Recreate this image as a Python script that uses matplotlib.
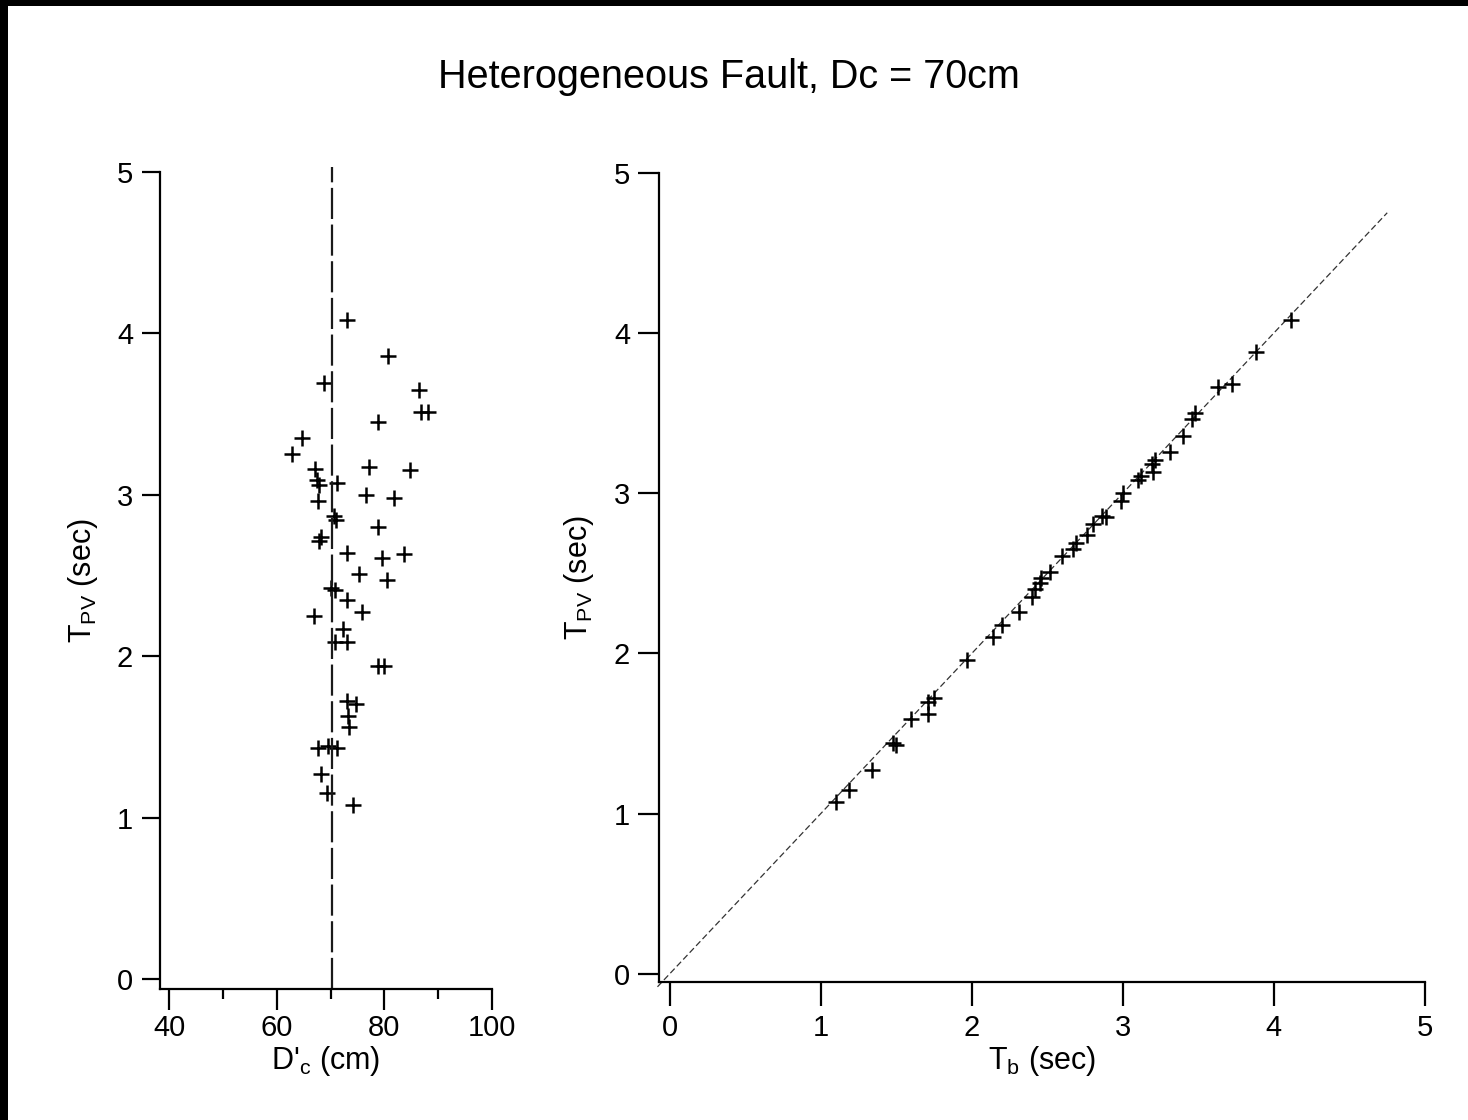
import matplotlib
matplotlib.use('Agg')
import matplotlib.pyplot as plt
from matplotlib.patches import Rectangle

plt.rcParams['font.family'] = ['Liberation Sans', 'DejaVu Sans']
plt.rcParams['mathtext.fontset'] = 'custom'
plt.rcParams['mathtext.rm'] = 'Liberation Sans'
plt.rcParams['mathtext.default'] = 'rm'

# left panel: D'c vs T_pv
left_dc = [73.0, 80.7, 68.8, 86.5, 86.9, 88.2, 78.8, 64.7, 62.8, 67.1,
           67.5, 67.9, 71.3, 77.2, 84.8, 76.6, 81.8, 67.6, 71.0, 70.7,
           78.9, 68.2, 67.9, 73.0, 79.5, 83.6, 75.3, 80.6, 70.1, 70.8,
           73.0, 67.0, 75.9, 72.4, 70.8, 73.0, 78.9, 80.0, 73.0, 74.8,
           73.3, 73.5, 67.6, 69.5, 71.2, 68.2, 69.3, 74.2]
left_tpv = [4.08, 3.86, 3.69, 3.65, 3.51, 3.51, 3.45, 3.35, 3.25, 3.16,
            3.09, 3.06, 3.07, 3.17, 3.15, 3.00, 2.98, 2.96, 2.84, 2.87,
            2.80, 2.74, 2.71, 2.64, 2.61, 2.63, 2.51, 2.47, 2.42, 2.41,
            2.35, 2.25, 2.27, 2.17, 2.09, 2.09, 1.94, 1.94, 1.72, 1.70,
            1.63, 1.56, 1.43, 1.44, 1.43, 1.27, 1.15, 1.08]
dc_line = 70.3

# right panel: T_b vs T_pv
right_tb = [4.11, 3.88, 3.72, 3.63, 3.48, 3.46, 3.40, 3.31, 3.21, 3.19,
            3.20, 3.12, 3.10, 3.00, 2.99, 2.86, 2.89, 2.80, 2.76, 2.69,
            2.67, 2.60, 2.52, 2.46, 2.45, 2.42, 2.40, 2.31, 2.20, 2.14,
            1.97, 1.75, 1.71, 1.71, 1.60, 1.48, 1.50, 1.34, 1.19, 1.10]
right_tpv = [4.08, 3.88, 3.68, 3.66, 3.50, 3.46, 3.36, 3.26, 3.21, 3.18,
             3.13, 3.11, 3.08, 3.00, 2.95, 2.86, 2.85, 2.81, 2.74, 2.69,
             2.65, 2.61, 2.51, 2.47, 2.44, 2.40, 2.35, 2.26, 2.18, 2.10,
             1.96, 1.72, 1.70, 1.62, 1.59, 1.44, 1.43, 1.27, 1.15, 1.07]
diag = [-0.08, 4.75]

W, H = 1468, 1120
fig = plt.figure(figsize=(W / 100, H / 100), dpi=100)
fig.patch.set_facecolor('white')
# black frame at top and left edge
fig.patches.append(Rectangle((0, 1 - 6 / H), 1, 6 / H, transform=fig.transFigure,
                             facecolor='black', edgecolor='none'))
fig.patches.append(Rectangle((0, 0), 8 / W, 1, transform=fig.transFigure,
                             facecolor='black', edgecolor='none'))

ax1 = fig.add_axes([159.6 / W, (H - 989.3) / H, 332.4 / W, 817.6 / H])
ax2 = fig.add_axes([659.3 / W, (H - 982.3) / H, 765.7 / W, 809.6 / H])


def style(ax, xlen, ylen, xpad, ypad):
    for s in ['top', 'right']:
        ax.spines[s].set_visible(False)
    for s in ['left', 'bottom']:
        ax.spines[s].set_linewidth(1.6)
    ax.tick_params(axis='x', which='major', direction='out', length=xlen, width=1.6,
                   pad=xpad, labelsize=21)
    ax.tick_params(axis='y', which='major', direction='out', length=ylen, width=1.6,
                   pad=ypad, labelsize=21)


ax1.plot(left_dc, left_tpv, '+', color='black', ms=12, mew=1.8)
ax1.axvline(dc_line, ymin=0, ymax=(5.03 + 0.064) / 5.064, color='#1a1a1a', lw=1.6,
            dashes=(14, 2.5), clip_on=False)
ax1.set_xlim(38.2, 100.05)
ax1.set_ylim(-0.064, 5)
ax1.set_xticks([40, 60, 80, 100])
ax1.set_xticks([50, 70, 90], minor=True)
ax1.set_yticks([0, 1, 2, 3, 4, 5])
style(ax1, 15, 13, 3, 6)
ax1.tick_params(axis='x', which='minor', direction='out', length=7, width=1.6)
ax1.set_xlabel("D'$_c$ (cm)", fontsize=22, labelpad=1)
ax1.set_ylabel("T$_{PV}$ (sec)", fontsize=22, labelpad=12)

ax2.plot(diag, diag, color='#333333', lw=0.9, dashes=(5, 2.5), clip_on=False)
ax2.plot(right_tb, right_tpv, '+', color='black', ms=12, mew=1.8)
ax2.set_xlim(-0.068, 5)
ax2.set_ylim(-0.052, 5)
ax2.set_xticks([0, 1, 2, 3, 4, 5])
ax2.set_yticks([0, 1, 2, 3, 4, 5])
style(ax2, 17, 15, 6, 6)
ax2.set_xlabel("T$_b$ (sec)", fontsize=22, labelpad=1)
ax2.set_ylabel("T$_{PV}$ (sec)", fontsize=22, labelpad=13)

fig.text(729 / W, (H - 87.7) / H, 'Heterogeneous Fault, Dc = 70cm', fontsize=28.5,
         ha='center', va='baseline')

fig.savefig('out.png', dpi=100, facecolor='white')
